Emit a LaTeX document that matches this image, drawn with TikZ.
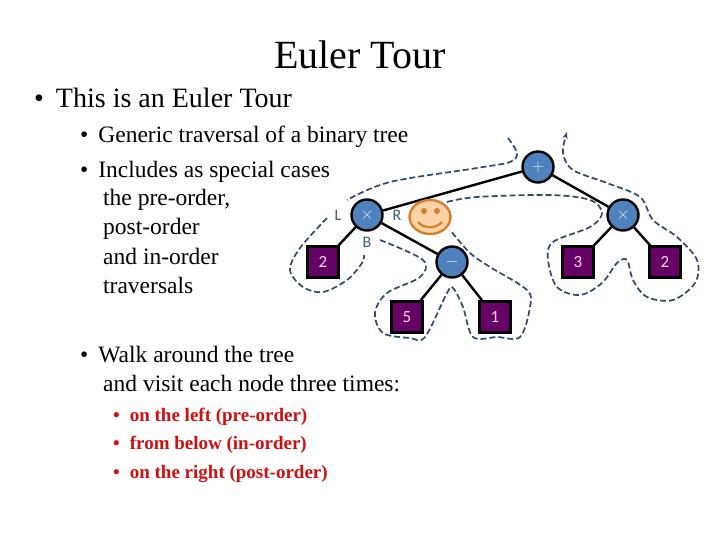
\documentclass[tikz,border=0pt]{standalone}
\usepackage{fontspec}
\setmainfont{Liberation Serif}
\newfontfamily\carl{Carlito}
\usetikzlibrary{arrows.meta,shapes.geometric}
\definecolor{cblue}{HTML}{4F81BD}
\definecolor{sq}{HTML}{660066}
\definecolor{dash}{HTML}{2F4A6A}
\definecolor{lab}{HTML}{3A5A80}
\definecolor{redb}{HTML}{D01010}
\begin{document}
\begin{tikzpicture}[x=1pt,y=-1pt,
  inode/.style={circle,draw=black,line width=2.4pt,fill=cblue,minimum size=31pt,inner sep=0pt,text=white!85!cblue,font=\carl\fontsize{17}{17}\selectfont},
  leaf/.style={rectangle,draw=black,line width=2.4pt,fill=sq,minimum size=31pt,inner sep=0pt,text=pink!60!white,font=\carl\fontsize{17}{17}\selectfont},
  edge/.style={line width=2.4pt},
  tour/.style={draw=dash,line width=1.7pt,dash pattern=on 6pt off 3pt},
  lbl/.style={text=lab,font=\carl\fontsize{16}{16}\selectfont},
  txt/.style={anchor=base west,inner sep=0pt}]
\useasboundingbox (0,0) rectangle (720,540);
\node (title) at (360,55) {\fontsize{40}{40}\selectfont Euler Tour};
\node[txt] (b1) at (34,108) {\fontsize{28}{28}\selectfont\textbullet\hspace{12pt}This is an Euler Tour};
\begin{scope}[every node/.style={txt,font=\fontsize{23.5}{23.5}\selectfont}]
\node (s1) at (80,143) {\textbullet\hspace{10pt}Generic traversal of a binary tree};
\node (s2) at (80,178) {\textbullet\hspace{10pt}Includes as special cases};
\node (s3) at (103,206) {the pre-order,};
\node (s4) at (103,235) {post-order};
\node (s5) at (103,264) {and in-order};
\node (s6) at (103,293) {traversals};
\node (w1) at (80,362) {\textbullet\hspace{10pt}Walk around the tree};
\node (w2) at (103,391) {and visit each node three times:};
\end{scope}
\begin{scope}[every node/.style={txt,text=redb,font=\fontsize{19}{19}\selectfont\bfseries}]
\node (r1) at (113,421) {\textbullet\hspace{10pt}on the left (pre-order)};
\node (r2) at (113,449) {\textbullet\hspace{10pt}from below (in-order)};
\node (r3) at (113,478) {\textbullet\hspace{10pt}on the right (post-order)};
\end{scope}
% tree
\node[inode] (p) at (538,167) {$+$};
\node[inode] (m1) at (367,215) {$\times$};
\node[inode] (m2) at (623,215) {$\times$};
\node[inode] (mi) at (452,262) {$-$};
\node[leaf] (l2) at (323,262) {2};
\node[leaf] (l5) at (407,317) {5};
\node[leaf] (l1) at (495,317) {1};
\node[leaf] (l3) at (578,262) {3};
\node[leaf] (l2b) at (665,262) {2};
\draw[edge] (p) -- (m1); \draw[edge] (p) -- (m2);
\draw[edge] (m1) -- (l2); \draw[edge] (m1) -- (mi);
\draw[edge] (mi) -- (l5); \draw[edge] (mi) -- (l1);
\draw[edge] (m2) -- (l3); \draw[edge] (m2) -- (l2b);
\node[lbl] (L) at (338,215) {L};
\node[lbl] (R) at (397,215) {R};
\node[lbl] (B) at (367,242) {B};
% smiley
\node[ellipse,draw=brown!70!orange,line width=2.4pt,fill=orange!35!white,minimum width=41pt,minimum height=34pt,inner sep=0pt] (face) at (430,217) {};
\fill[brown!70!orange] (424,211) circle (3pt) (437,211) circle (3pt);
\draw[brown!70!orange,line width=2.2pt] (418,222) .. controls (424,229) and (436,229) .. (442,222);
% tour
\draw[tour] plot[smooth,tension=0.55] coordinates {
(508,138) (517,153) (510,162) (477,168) (390,182) (347,200)};
\draw[tour] plot[smooth,tension=0.55] coordinates {
(327,218) (300,248) (290,270) (303,287) (323,292) (347,280) (362,263) (364,255)};
\draw[tour] plot[smooth,tension=0.55] coordinates {
(380,240) (423,260) (420,277) (387,293) (375,313) (383,333) (410,338) (425,337) (447,293) (453,288) (463,307) (473,337) (497,337) (520,337) (530,307) (527,290) (490,267) (470,253) (450,230)};
\draw[tour,-{Stealth[length=7pt]}] plot[smooth,tension=0.55] coordinates {
(447,202) (477,197) (550,195) (590,200) (602,213) (590,227) (553,242) (548,260) (557,287) (580,295) (602,283) (617,263) (627,260) (633,280) (647,297) (673,300) (695,283) (697,260) (677,237) (653,220) (640,197) (607,183) (573,170) (563,153) (567,132)};
\end{tikzpicture}
\end{document}
